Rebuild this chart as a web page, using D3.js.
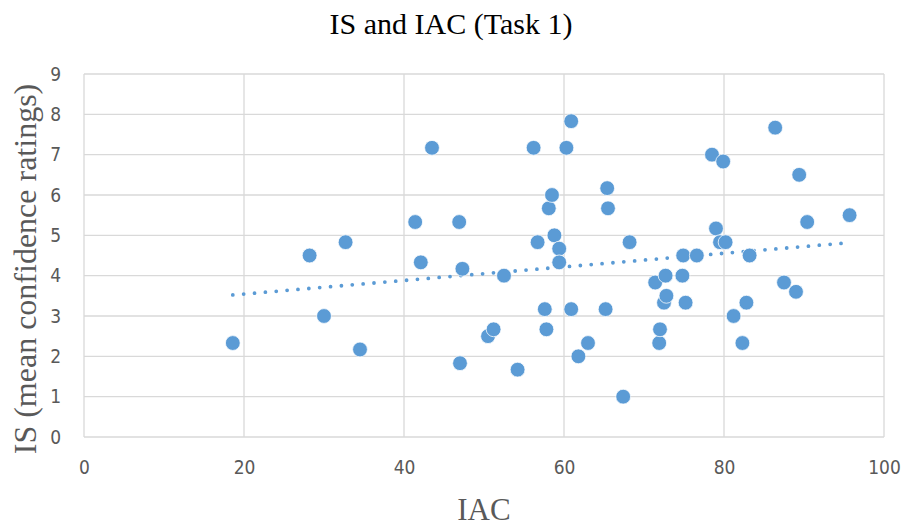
<!DOCTYPE html>
<html>
<head>
<meta charset="utf-8">
<script src="https://cdn.jsdelivr.net/npm/d3@7"></script>
<style>
  body { margin: 0; background: #fff; }
</style>
</head>
<body>
<script>
// data
var iac = [18.6, 28.2, 30.0, 32.7, 34.5, 41.4, 42.1, 43.5, 46.9, 47.3,
           47.0, 50.5, 51.2, 52.5, 54.2, 56.2, 56.7, 57.6, 57.8, 58.1,
           58.5, 58.8, 59.4, 59.4, 60.3, 60.9, 60.9, 61.8, 63.0, 65.2,
           65.4, 65.5, 67.4, 68.2, 71.4, 71.9, 72.0, 72.5, 72.8, 72.7,
           74.8, 74.9, 75.2, 76.6, 78.5, 79.0, 79.5, 79.9, 80.2, 81.2,
           82.3, 82.8, 83.2, 86.4, 87.5, 89.0, 89.4, 90.4, 95.7];
var isVals = [2.33, 4.5, 3.0, 4.83, 2.17, 5.33, 4.33, 7.17, 5.33, 4.17,
              1.83, 2.5, 2.67, 4.0, 1.67, 7.17, 4.83, 3.17, 2.67, 5.67,
              6.0, 5.0, 4.67, 4.33, 7.17, 7.83, 3.17, 2.0, 2.33, 3.17,
              6.17, 5.67, 1.0, 4.83, 3.83, 2.33, 2.67, 3.33, 3.5, 4.0,
              4.0, 4.5, 3.33, 4.5, 7.0, 5.17, 4.83, 6.83, 4.83, 3.0,
              2.33, 3.33, 4.5, 7.67, 3.83, 3.6, 6.5, 5.33, 5.5];
var xTicks = [0, 20, 40, 60, 80, 100];
var yTicks = [0, 1, 2, 3, 4, 5, 6, 7, 8, 9];

var width = 906, height = 527;
var margin = {top: 74, right: 22, bottom: 90, left: 84};

var svg = d3.select("body").append("svg")
            .attr("width", width)
            .attr("height", height);

var x = d3.scaleLinear().domain([0, 100]).range([margin.left, width - margin.right]);
var y = d3.scaleLinear().domain([0, 9]).range([height - margin.bottom, margin.top]);

// gridlines
svg.append("g")
   .selectAll("line.h")
   .data(yTicks)
   .enter().append("line")
   .attr("x1", x(0)).attr("x2", x(100))
   .attr("y1", function(d) { return y(d); })
   .attr("y2", function(d) { return y(d); })
   .attr("stroke", "#d9d9d9").attr("stroke-width", 1.3);

svg.append("g")
   .selectAll("line.v")
   .data(xTicks)
   .enter().append("line")
   .attr("y1", y(0)).attr("y2", y(9))
   .attr("x1", function(d) { return x(d); })
   .attr("x2", function(d) { return x(d); })
   .attr("stroke", "#d9d9d9").attr("stroke-width", 1.3);

// axes (labels only)
var xAxis = svg.append("g")
   .attr("transform", "translate(0," + (y(0) + 14) + ")")
   .call(d3.axisBottom(x).tickValues(xTicks).tickSize(0).tickPadding(10));
var yAxis = svg.append("g")
   .attr("transform", "translate(" + (x(0) - 23) + ",0)")
   .call(d3.axisLeft(y).tickValues(yTicks).tickSize(0).tickPadding(0));
[xAxis, yAxis].forEach(function(a) {
  a.select(".domain").remove();
  a.selectAll("text")
   .attr("fill", "#595959")
   .style("font-family", "'Liberation Sans Narrow', 'DejaVu Sans Condensed', sans-serif")
   .style("font-size", "19px");
});

// linear trendline (least squares fit of the points)
var pts = iac.map(function(v, i) { return [v, isVals[i]]; });
var mx = d3.mean(iac), my = d3.mean(isVals);
var sxy = d3.sum(pts, function(p) { return (p[0] - mx) * (p[1] - my); });
var sxx = d3.sum(pts, function(p) { return (p[0] - mx) * (p[0] - mx); });
var slope = sxy / sxx, icpt = my - slope * mx;
var ext = d3.extent(iac);

svg.append("line")
   .attr("x1", x(ext[0])).attr("y1", y(icpt + slope * ext[0]))
   .attr("x2", x(ext[1])).attr("y2", y(icpt + slope * ext[1]))
   .attr("stroke", "#5b9bd5")
   .attr("stroke-width", 3.8)
   .attr("stroke-linecap", "round")
   .attr("stroke-dasharray", "0 10.9");

// points
svg.append("g")
   .selectAll("circle")
   .data(pts)
   .enter().append("circle")
   .attr("cx", function(d) { return x(d[0]); })
   .attr("cy", function(d) { return y(d[1]); })
   .attr("r", 7.4)
   .attr("fill", "#5b9bd5")
   .attr("stroke", "#fff")
   .attr("stroke-width", 0.75);

// titles
svg.append("text")
   .attr("x", 451).attr("y", 34)
   .attr("text-anchor", "middle")
   .style("font-family", "'Liberation Serif', serif")
   .style("font-size", "30px")
   .attr("fill", "#000")
   .text("IS and IAC (Task 1)");

svg.append("text")
   .attr("x", 484).attr("y", 520)
   .attr("text-anchor", "middle")
   .style("font-family", "'Liberation Serif', serif")
   .style("font-size", "31px")
   .attr("fill", "#595959")
   .text("IAC");

svg.append("text")
   .attr("transform", "translate(36," + 269 + ") rotate(-90)")
   .attr("text-anchor", "middle")
   .style("font-family", "'Liberation Serif', serif")
   .style("font-size", "32px")
   .attr("fill", "#595959")
   .text("IS (mean confidence ratings)");
</script>
</body>
</html>
